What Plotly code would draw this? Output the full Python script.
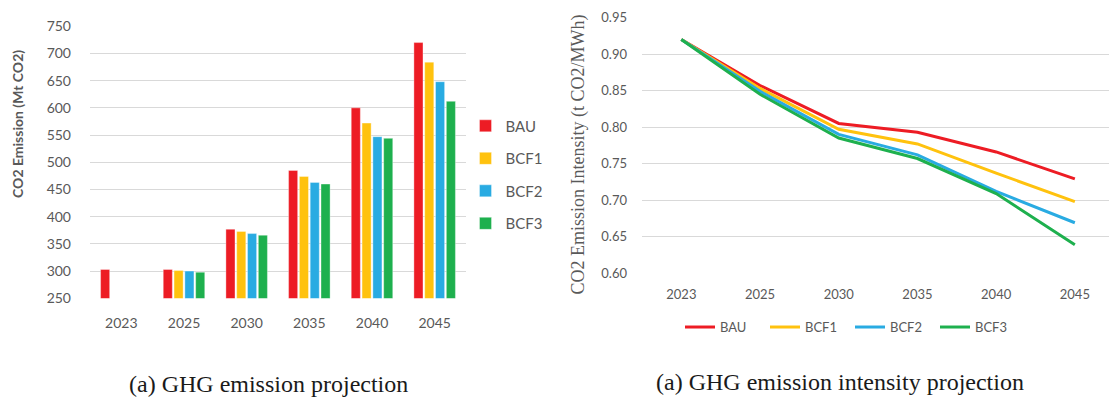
import plotly.graph_objects as go

# Projection years (shared by both panels)
years = ["2023", "2025", "2030", "2035", "2040", "2045"]
scenarios = ["BAU", "BCF1", "BCF2", "BCF3"]
colors = ["#ED1C24", "#FFC20E", "#29ABE2", "#1EB04E"]

# CO2 emission (Mt CO2)
emission_bau = [303, 303, 377, 485, 600, 720]
emission_bcf1 = [None, 301, 373, 474, 572, 684]
emission_bcf2 = [None, 300, 369, 463, 547, 648]
emission_bcf3 = [None, 298, 366, 460, 544, 612]

# CO2 emission intensity (t CO2/MWh)
intensity_bau = [0.920, 0.857, 0.805, 0.793, 0.766, 0.729]
intensity_bcf1 = [0.920, 0.853, 0.797, 0.777, 0.737, 0.698]
intensity_bcf2 = [0.920, 0.849, 0.790, 0.762, 0.712, 0.669]
intensity_bcf3 = [0.920, 0.845, 0.785, 0.757, 0.709, 0.639]

emissions = [emission_bau, emission_bcf1, emission_bcf2, emission_bcf3]
intensities = [intensity_bau, intensity_bcf1, intensity_bcf2, intensity_bcf3]

W, H = 1109, 405
SANS = "Lato, 'Open Sans', sans-serif"
SERIF = "Liberation Serif, serif"
TICK_FONT = dict(family=SANS, size=14, color="#595959")
GRID = "#D9D9D9"

fig = go.Figure()

for name, vals, col in zip(scenarios, emissions, colors):
    fig.add_trace(go.Bar(
        x=years, y=vals, name=name, marker_color=col,
        marker_line=dict(width=0.6, color="rgba(255,255,255,0.6)"),
        xaxis="x", yaxis="y", legend="legend", legendgroup="bar_" + name,
    ))

for name, vals, col in zip(scenarios, intensities, colors):
    fig.add_trace(go.Scatter(
        x=years, y=vals, name=name, mode="lines",
        line=dict(color=col, width=3),
        xaxis="x2", yaxis="y2", legend="legend2",
    ))

# Panel geometry in pixels
L_x0, L_x1, L_y0, L_y1 = 90, 466, 18, 302
R_x0, R_x1, R_y0, R_y1 = 642, 1109, 9, 275.7
cat_step_r = 78.7

fig.update_layout(
    width=W, height=H,
    margin=dict(l=0, r=0, t=0, b=0),
    paper_bgcolor="white", plot_bgcolor="white",
    barmode="group", bargap=0.31, bargroupgap=0.16,
    showlegend=True,
    xaxis=dict(
        domain=[L_x0 / W, L_x1 / W], anchor="y",
        type="category", range=[-0.5, 5.5],
        showgrid=False, showline=False, zeroline=False, ticks="",
        tickfont=TICK_FONT, ticklabelstandoff=15,
    ),
    yaxis=dict(
        domain=[1 - L_y1 / H, 1 - L_y0 / H], anchor="x",
        range=[250, 750], dtick=50, tick0=250,
        showgrid=True, gridcolor=GRID, gridwidth=1,
        zeroline=False, showline=False, ticks="",
        tickfont=TICK_FONT, ticklabelstandoff=18,
    ),
    xaxis2=dict(
        domain=[R_x0 / W, R_x1 / W], anchor="y2",
        type="category", range=[-0.5, (R_x1 - R_x0) / cat_step_r - 0.5],
        showgrid=False, showline=False, zeroline=False, ticks="",
        tickfont=dict(TICK_FONT, size=13), ticklabelstandoff=12,
    ),
    yaxis2=dict(
        domain=[1 - R_y1 / H, 1 - R_y0 / H], anchor="x2",
        range=[0.60, 0.95], dtick=0.05, tick0=0.60, tickformat=".2f",
        showgrid=True, gridcolor=GRID, gridwidth=1,
        zeroline=False, showline=False, ticks="",
        tickfont=dict(TICK_FONT, size=13), ticklabelstandoff=14,
    ),
    legend=dict(
        x=465.5 / W, xanchor="left", y=1 - 105 / H, yanchor="top",
        orientation="v", tracegroupgap=10, bgcolor="rgba(0,0,0,0)",
        font=dict(family=SANS, size=15, color="#595959"),
    ),
    legend2=dict(
        x=680 / W, xanchor="left", y=1 - 332 / H, yanchor="middle",
        orientation="h", bgcolor="rgba(0,0,0,0)",
        entrywidth=40, entrywidthmode="pixels",
        font=dict(family=SANS, size=13, color="#595959"),
    ),
    annotations=[
        dict(text="<b>CO2 Emission (Mt CO2)</b>", textangle=-90,
             x=18 / W, y=1 - 120 / H, xref="paper", yref="paper",
             showarrow=False, xanchor="center", yanchor="middle",
             font=dict(family=SANS, size=14, color="#595959")),
        dict(text="CO2 Emission Intensity (t CO2/MWh)", textangle=-90,
             x=579 / W, y=1 - 152 / H, xref="paper", yref="paper",
             showarrow=False, xanchor="center", yanchor="middle",
             font=dict(family=SERIF, size=18, color="#595959")),
        dict(text="(a) GHG emission projection",
             x=268 / W, y=1 - 391 / H, xref="paper", yref="paper",
             showarrow=False, xanchor="center", yanchor="middle",
             font=dict(family=SERIF, size=24, color="#1a1a1a")),
        dict(text="(a) GHG emission intensity projection",
             x=840 / W, y=1 - 389 / H, xref="paper", yref="paper",
             showarrow=False, xanchor="center", yanchor="middle",
             font=dict(family=SERIF, size=24, color="#1a1a1a")),
    ],
)

fig.write_html("out.html")
